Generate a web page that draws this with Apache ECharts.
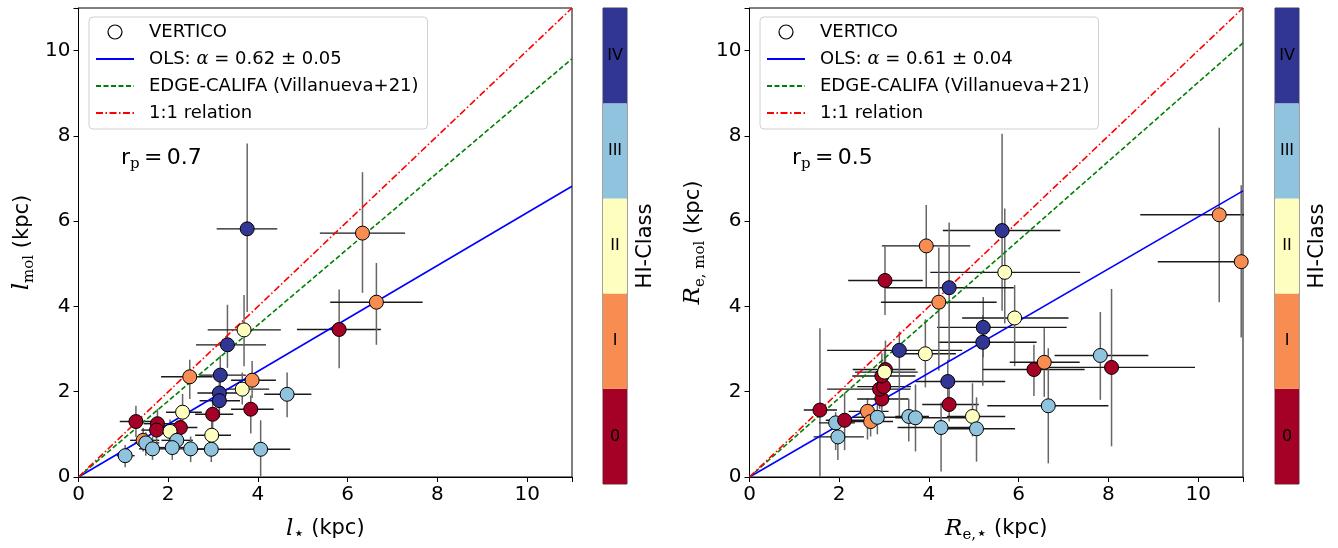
<!DOCTYPE html>
<html><head><meta charset="utf-8">
<script src="https://cdn.jsdelivr.net/npm/echarts@6/dist/echarts.min.js"></script>
<style>html,body{margin:0;padding:0;background:#fff}#c{width:1338px;height:548px}</style>
</head><body><div id="c"></div>
<script>
// HI classes and colours (RdYlBu, 5 steps)
const classNames = ['0', 'I', 'II', 'III', 'IV'];
const classColors = ['#a50026', '#f88d52', '#feffbf', '#90c3dd', '#313695'];
const colorbarSpan = [1, 1, 1, 1, 1];
const axisTicks = [0, 2, 4, 6, 8, 10];

// Left panel: l_star vs l_mol (kpc)
const leftX     = [1.04,1.28,1.44,1.50,1.65,1.76,1.74,2.27,2.04,2.19,2.09,2.50,2.32,2.48,2.96,2.97,2.99,3.16,3.14,3.14,3.32,3.69,3.65,3.87,3.84,4.06,4.65,5.81,6.64,6.33,3.76];
const leftY     = [0.50,1.30,0.86,0.80,0.66,1.25,1.10,1.16,1.07,0.86,0.69,0.66,1.52,2.35,0.65,0.98,1.47,2.39,1.97,1.79,3.10,3.45,2.06,2.27,1.59,0.65,1.94,3.46,4.10,5.72,5.82];
const leftClass = [3,0,1,3,3,0,0,0,2,3,3,3,2,1,3,2,0,4,4,4,4,2,2,1,0,3,3,0,1,1,4];
const leftXLo   = [0.85,0.92,1.15,1.25,1.35,1.45,1.40,1.95,1.70,1.85,1.75,2.10,1.95,1.84,2.55,2.60,2.60,2.70,2.65,2.70,2.62,2.88,3.29,3.40,3.40,3.39,4.14,4.87,5.61,5.38,3.08];
const leftXHi   = [1.25,1.66,1.80,1.80,2.00,2.15,2.10,2.65,2.40,2.55,2.45,2.90,2.75,2.99,3.40,3.40,3.45,3.73,3.65,3.60,4.18,4.51,4.25,4.40,4.35,4.72,5.19,6.74,7.67,7.28,4.43];
const leftYLo   = [0.23,0.94,0.60,0.50,0.40,0.95,0.80,0.85,0.80,0.55,0.40,0.35,1.15,1.83,0.35,0.70,1.10,1.95,1.60,1.40,2.56,2.60,1.70,1.85,1.02,0.00,1.40,2.55,3.10,4.32,3.87];
const leftYHi   = [0.75,1.67,1.15,1.05,0.95,1.60,1.40,1.50,1.35,1.20,1.00,0.95,1.95,2.75,0.95,1.30,1.80,2.85,2.40,2.15,4.04,4.27,2.45,2.72,1.91,1.33,2.45,4.40,5.02,7.15,7.82];

// Right panel: R_e,star vs R_e,mol (kpc)
const rightX     = [1.57,1.92,2.12,1.97,2.63,2.70,2.85,2.95,2.90,2.99,2.95,3.03,3.01,3.34,3.92,3.55,3.70,4.27,4.42,4.45,4.97,5.06,5.20,5.21,5.91,5.69,5.63,3.94,3.02,4.45,4.22,6.34,6.57,6.66,7.82,8.07,10.47,10.96];
const rightY     = [1.57,1.27,1.33,0.94,1.54,1.30,1.40,1.83,2.06,2.12,2.37,2.52,2.46,2.97,2.89,1.42,1.39,1.16,2.24,1.70,1.42,1.13,3.16,3.51,3.73,4.80,5.78,5.42,4.61,4.44,4.10,2.52,2.69,1.67,2.85,2.57,6.15,5.05];
const rightClass = [0,3,0,3,1,1,3,0,0,0,0,0,2,4,2,3,3,3,4,0,2,3,4,4,2,2,4,1,0,4,1,0,1,3,3,0,1,1];
const rightXLo   = [1.21,1.55,1.70,1.43,2.21,2.22,2.30,2.40,1.73,2.40,2.29,2.30,2.35,1.73,3.20,3.25,3.25,3.30,3.70,3.85,4.40,4.29,4.20,4.18,4.74,4.03,4.31,2.95,2.20,3.03,2.93,5.20,5.80,5.30,6.80,6.20,8.71,9.10];
const rightXHi   = [1.95,2.35,2.58,2.55,3.10,3.20,3.45,3.55,3.59,3.60,3.70,3.70,3.75,4.74,4.60,4.00,4.81,5.20,5.70,5.11,5.70,5.92,6.40,7.07,7.11,7.37,6.93,4.92,3.86,5.89,5.51,7.47,7.36,8.00,8.89,9.93,12.20,12.80];
const rightYLo   = [0.00,0.63,0.63,0.40,0.88,0.95,1.00,1.40,1.60,1.70,1.90,1.80,2.00,1.40,2.10,0.83,0.60,0.13,1.70,1.30,0.95,0.36,2.14,2.80,2.60,3.60,3.90,4.43,3.80,2.70,2.50,1.90,1.88,0.32,1.81,0.72,4.10,3.27];
const rightYHi   = [3.49,1.52,1.98,1.20,1.84,1.70,1.75,2.33,2.60,2.60,2.90,3.20,2.95,3.41,3.70,1.83,2.17,1.75,2.75,2.10,2.20,1.87,3.80,4.22,4.50,6.30,8.05,6.38,5.42,5.97,5.38,3.10,3.49,3.02,3.87,4.41,8.19,6.84];

// Relations (end points)
const olsLeft   = [[0, 0], [11, 6.82]];
const edgeLeft  = [[0, 0], [11, 9.81]];
const olsRight  = [[0, 0], [11, 6.71]];
const edgeRight = [[0, 0], [11, 10.18]];
const oneToOne  = [[0, 0], [11, 11]];

const labelsLeft  = {ols: 'OLS: α = 0.62 ± 0.05', rp: '0.7'};
const labelsRight = {ols: 'OLS: α = 0.61 ± 0.04', rp: '0.5'};
const EDGE = 'EDGE-CALIFA (Villanueva+21)';
const ONE = '1:1 relation';

function rows(X, Y, C, XL, XH, YL, YH) {
  return X.map((x, i) => [x, Y[i], C[i], XL[i], XH[i], YL[i], YH[i]]);
}
const leftRows = rows(leftX, leftY, leftClass, leftXLo, leftXHi, leftYLo, leftYHi);
const rightRows = rows(rightX, rightY, rightClass, rightXLo, rightXHi, rightYLo, rightYHi);

const FONT = 'DejaVu Sans';
const SERIF = 'DejaVu Serif';

function errRender(params, api) {
  const x = api.value(0), y = api.value(1);
  const a = api.coord([api.value(3), y]), b = api.coord([api.value(4), y]);
  const c = api.coord([x, api.value(5)]), d = api.coord([x, api.value(6)]);
  return {type: 'group', children: [
    {type: 'line', shape: {x1: a[0], y1: a[1], x2: b[0], y2: b[1]}, style: {stroke: '#1a1a1a', lineWidth: 1.4}},
    {type: 'line', shape: {x1: c[0], y1: c[1], x2: d[0], y2: d[1]}, style: {stroke: '#666666', lineWidth: 1.5}}
  ]};
}

function valueAxis(gridIndex, name, rich, isY) {
  return {
    type: 'value', gridIndex, min: 0, max: 11, interval: 2,
    name, nameLocation: 'middle', nameGap: isY ? 42 : 38, nameRotate: isY ? 90 : 0,
    nameTextStyle: {fontFamily: FONT, fontSize: 21, color: '#000', lineHeight: 28, rich},
    axisLine: {show: true, onZero: false, lineStyle: {color: '#000', width: 1}},
    axisTick: {show: true, inside: false, length: 5, lineStyle: {color: '#000', width: 1}},
    axisLabel: {show: true, fontFamily: FONT, fontSize: 20, color: '#000', margin: 8,
      customValues: axisTicks},
    splitLine: {show: false}
  };
}

const mainTok = {fontFamily: SERIF, fontStyle: 'italic', fontSize: 23, lineHeight: 28, verticalAlign: 'middle'};
const subTok = {fontFamily: SERIF, fontSize: 15, lineHeight: 12, verticalAlign: 'bottom'};
const starTok = {fontFamily: FONT, fontSize: 18, lineHeight: 14, verticalAlign: 'bottom'};
const richY = {i: mainTok, s: subTok};
const richX = {i: mainTok, s: subTok, t: starTok};

function colorbarAxes(gridIndex) {
  return {
    x: {type: 'value', gridIndex, min: 0, max: 1, show: false},
    y: {type: 'category', gridIndex, data: classNames, position: 'right',
      name: 'HI-Class', nameLocation: 'middle', nameRotate: 90, nameGap: 8,
      nameTextStyle: {fontFamily: FONT, fontSize: 21, color: '#000'},
      axisLine: {show: false}, axisTick: {show: false}, axisLabel: {show: false}}
  };
}
const cb1 = colorbarAxes(2), cb2 = colorbarAxes(3);

function panelSeries(xi, rowsData, ols, olsName, edge) {
  return [
    {type: 'custom', name: 'err', xAxisIndex: xi, yAxisIndex: xi, data: rowsData,
      renderItem: errRender, encode: {x: 0, y: 1}, clip: true, z: 1, silent: true},
    {type: 'line', name: olsName, xAxisIndex: xi, yAxisIndex: xi, data: ols, symbol: 'none',
      lineStyle: {color: '#0000ff', width: 1.6}, itemStyle: {color: '#0000ff'}, z: 2},
    {type: 'line', name: EDGE, xAxisIndex: xi, yAxisIndex: xi, data: edge, symbol: 'none',
      lineStyle: {color: '#008000', width: 1.6, type: [5, 2.5]}, itemStyle: {color: '#008000'}, z: 2},
    {type: 'line', name: ONE, xAxisIndex: xi, yAxisIndex: xi, data: oneToOne, symbol: 'none',
      lineStyle: {color: '#ff0000', width: 1.6, type: [7, 2.5, 1.5, 2.5]}, itemStyle: {color: '#ff0000'}, z: 2},
    {type: 'scatter', name: 'VERTICO', xAxisIndex: xi, yAxisIndex: xi, data: rowsData,
      encode: {x: 0, y: 1}, symbolSize: 14, clip: true, z: 3,
      itemStyle: {color: p => classColors[p.data[2]], borderColor: '#000', borderWidth: 1, opacity: 1}}
  ];
}

function colorbarSeries(idx) {
  return {type: 'bar', xAxisIndex: idx, yAxisIndex: idx,
    data: colorbarSpan.map((v, i) => ({value: v, itemStyle: {color: classColors[i]}})),
    barWidth: '100%', barCategoryGap: 0, silent: true,
    label: {show: true, position: 'inside', formatter: p => p.name, color: '#000', fontFamily: FONT, fontSize: 16}};
}

function legend(left, olsName) {
  const noDot = {opacity: 0};
  return {
    left, top: 17, orient: 'vertical', itemWidth: 38, itemHeight: 14, itemGap: 7,
    padding: [5, 9, 6, 6], backgroundColor: '#fff', borderColor: '#d0d0d0', borderWidth: 1, borderRadius: 4,
    selectedMode: false,
    textStyle: {fontFamily: FONT, fontSize: 18, color: '#000', lineHeight: 20, padding: [0, 0, 0, 10],
      rich: {a: {fontFamily: SERIF, fontStyle: 'italic', fontSize: 18}}},
    formatter: n => n.replace('α', '{a|α}'),
    data: [
      {name: 'VERTICO', icon: 'circle', itemStyle: {color: '#fff', borderColor: '#000', borderWidth: 1.2}},
      {name: olsName, itemStyle: noDot},
      {name: EDGE, itemStyle: noDot},
      {name: ONE, itemStyle: noDot}
    ]
  };
}

function rpText(x, val) {
  return {type: 'text', x, y: 158, z: 10,
    style: {text: 'r{p|p}\u2009=\u2009' + val, fontFamily: FONT, fontSize: 22, fill: '#000',
      verticalAlign: 'middle', lineHeight: 28,
      rich: {p: {fontFamily: SERIF, fontSize: 15, lineHeight: 12, verticalAlign: 'bottom'}}}};
}

const chart = echarts.init(document.getElementById('c'), null, {renderer: 'canvas'});
chart.setOption({
  animation: false,
  backgroundColor: '#fff',
  grid: [
    {left: 78.5, top: 8, width: 493.5, height: 476, show: true, borderColor: '#000', borderWidth: 1},
    {left: 749.5, top: 8, width: 493.5, height: 476, show: true, borderColor: '#000', borderWidth: 1},
    {left: 603, top: 8, width: 24, height: 476, show: true, borderColor: '#444', borderWidth: 1},
    {left: 1275, top: 8, width: 24, height: 476, show: true, borderColor: '#444', borderWidth: 1}
  ],
  xAxis: [
    valueAxis(0, '{i|l}{t|⋆} (kpc)', richX, false),
    valueAxis(1, '{i|R}{s|e,}{t|⋆} (kpc)', richX, false),
    cb1.x, cb2.x
  ],
  yAxis: [
    valueAxis(0, '{i|l}{s|mol} (kpc)', richY, true),
    valueAxis(1, '{i|R}{s|e, mol} (kpc)', richY, true),
    cb1.y, cb2.y
  ],
  legend: [legend(89, labelsLeft.ols), legend(760, labelsRight.ols)],
  graphic: [rpText(121, labelsLeft.rp), rpText(792, labelsRight.rp)],
  series: [
    ...panelSeries(0, leftRows, olsLeft, labelsLeft.ols, edgeLeft),
    ...panelSeries(1, rightRows, olsRight, labelsRight.ols, edgeRight),
    colorbarSeries(2), colorbarSeries(3)
  ]
});
</script></body></html>
